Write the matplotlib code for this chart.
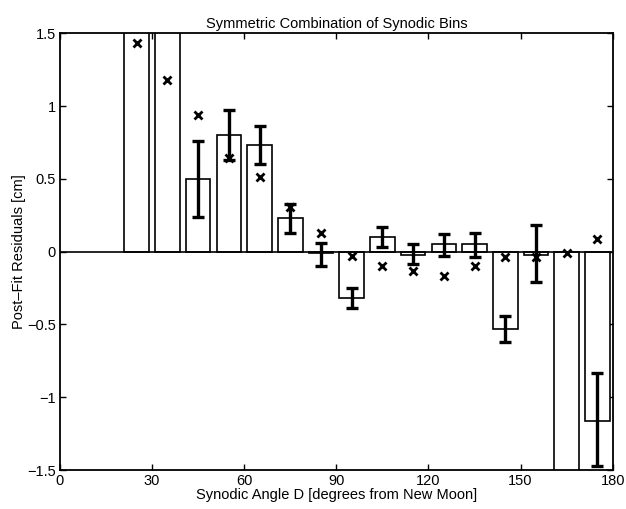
import numpy as np
import matplotlib
matplotlib.use("Agg")
import matplotlib.pyplot as plt

plt.rcParams['font.family'] = ['Liberation Sans', 'DejaVu Sans']

# bin centers (degrees) and values
centers = [25, 35, 45, 55, 65, 75, 85, 95, 105, 115, 125, 135, 145, 155, 165, 175]
bar_vals = [2.0, 2.0, 0.50, 0.80, 0.73, 0.23, -0.01, -0.32, 0.10, -0.02, 0.05, 0.05,
            -0.53, -0.02, -2.0, -1.16]
err_lo = [np.nan, np.nan, 0.24, 0.63, 0.60, 0.13, -0.10, -0.39, 0.035, -0.085, -0.03, -0.035,
          -0.62, -0.21, np.nan, -1.47]
err_hi = [np.nan, np.nan, 0.76, 0.97, 0.86, 0.33, 0.06, -0.25, 0.167, 0.05, 0.12, 0.13,
          -0.44, 0.18, np.nan, -0.835]
x_vals = [1.43, 1.18, 0.94, 0.64, 0.51, 0.31, 0.13, -0.03, -0.10, -0.13, -0.17, -0.10,
          -0.04, -0.035, -0.01, 0.09]

fig = plt.figure(figsize=(6.26, 5.09), dpi=100)
ax = fig.add_axes([0.0958, 0.0766, 0.883, 0.858])

ax.bar(centers, bar_vals, width=8, color='white', edgecolor='black', linewidth=1.2, zorder=2)
ax.axhline(0, color='black', linewidth=1.2, zorder=3)

mid = [(a + b) / 2 for a, b in zip(err_lo, err_hi)]
half = [(b - a) / 2 for a, b in zip(err_lo, err_hi)]
ax.errorbar(centers, mid, yerr=half, fmt='none', ecolor='black', elinewidth=2.4,
            capsize=4.5, capthick=2.4, zorder=4)
ax.plot(centers, x_vals, 'x', color='black', markersize=6, markeredgewidth=2, zorder=5)

ax.set_xlim(0, 180)
ax.set_ylim(-1.5, 1.5)
ax.set_xticks([0, 30, 60, 90, 120, 150, 180])
ax.set_yticks([-1.5, -1, -0.5, 0, 0.5, 1, 1.5])
ax.set_yticklabels(['\u22121.5', '\u22121', '\u22120.5', '0', '0.5', '1', '1.5'])
ax.tick_params(direction='in', top=True, right=True, length=4, width=1, labelsize=10.5, pad=3)
for s in ax.spines.values():
    s.set_linewidth(1.3)

ax.set_title('Symmetric Combination of Synodic Bins', fontsize=10.5, pad=4)
ax.set_xlabel('Synodic Angle D [degrees from New Moon]', fontsize=10.5, labelpad=0)
ax.set_ylabel('Post\u2013Fit Residuals [cm]', fontsize=10.5, labelpad=1)

fig.savefig('out.png', dpi=100)
